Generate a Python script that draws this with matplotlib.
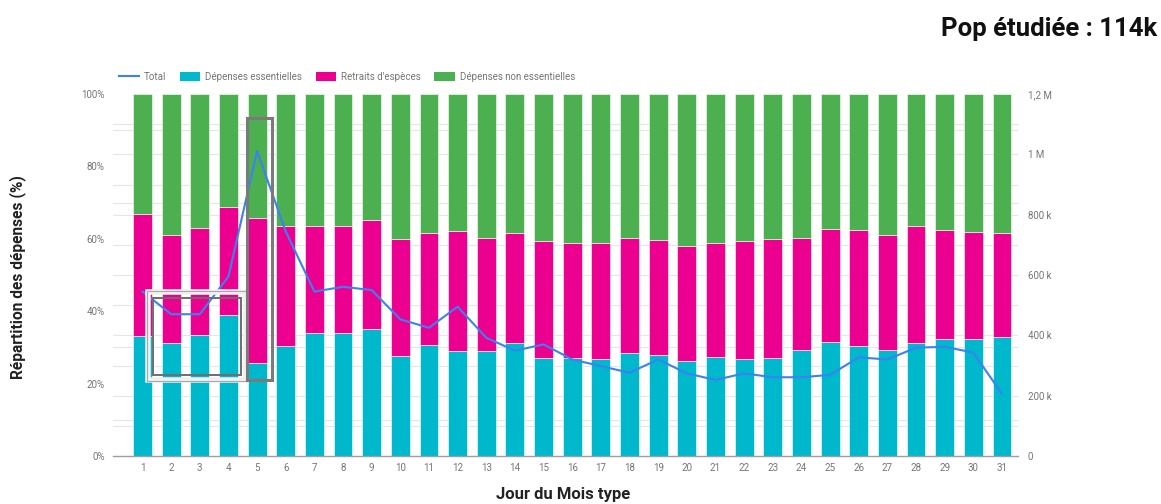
import numpy as np
import matplotlib
matplotlib.use("Agg")
import matplotlib.pyplot as plt
from matplotlib.patches import Rectangle, Patch
from matplotlib.lines import Line2D

plt.rcParams['font.family'] = ['Roboto', 'DejaVu Sans']

jours = list(range(1, 32))
# parts (%) de chaque type de dépense par jour
essentielles = [33.1, 31.3, 33.5, 38.9, 25.6, 30.3, 34.0, 33.9, 35.0, 27.7, 30.6,
                29.0, 29.0, 31.1, 27.2, 27.0, 26.7, 28.4, 27.9, 26.2, 27.3,
                26.7, 27.2, 29.2, 31.5, 30.5, 29.2, 31.1, 32.2, 32.2, 33.0]
retraits = [33.8, 29.7, 29.6, 29.9, 40.1, 33.1, 29.4, 29.5, 30.2, 32.2, 30.9,
            33.1, 31.3, 30.6, 32.1, 31.9, 32.2, 31.7, 31.7, 31.9, 31.6,
            32.7, 32.8, 31.1, 31.3, 31.8, 31.8, 32.3, 30.2, 29.7, 28.6]
non_essentielles = [33.1, 39.0, 36.9, 31.2, 34.3, 36.6, 36.6, 36.6, 34.8, 40.1, 38.5,
                    37.9, 39.7, 38.3, 40.7, 41.1, 41.1, 39.9, 40.4, 41.9, 41.1,
                    40.6, 40.0, 39.7, 37.2, 37.7, 39.0, 36.6, 37.6, 38.1, 38.4]
# montant total des dépenses
total = [545e3, 470e3, 470e3, 595e3, 1011e3, 744e3, 545e3, 561e3, 550e3, 453e3, 425e3,
         495e3, 392e3, 349e3, 370e3, 320e3, 298e3, 276e3, 320e3, 274e3, 252e3,
         274e3, 261e3, 261e3, 269e3, 327e3, 320e3, 359e3, 362e3, 343e3, 206e3]

pct_ticks = [0, 20, 40, 60, 80, 100]
pct_labels = ["0%", "20%", "40%", "60%", "80%", "100%"]
tot_ticks = [0, 200e3, 400e3, 600e3, 800e3, 1000e3, 1200e3]
tot_labels = ["0", "200 k", "400 k", "600 k", "800 k", "1 M", "1,2 M"]

c_ess = "#00B8CC"
c_ret = "#EC0090"
c_non = "#4CAF50"
c_tot = "#3B82F0"
grey_txt = "#757575"

fig = plt.figure(figsize=(11.61, 5.04), dpi=100)
ax = fig.add_axes([113/1161, 1-456/504, (1018-113)/1161, (456-94)/504])
ax2 = ax.twinx()

x = np.array(jours)
ess = np.array(essentielles)
ret = np.array(retraits)
non = np.array(non_essentielles)
w = 0.66
ax.bar(x, ess, w, color=c_ess, edgecolor="white", linewidth=0.4, zorder=2)
ax.bar(x, ret, w, bottom=ess, color=c_ret, edgecolor="white", linewidth=0.4, zorder=2)
ax.bar(x, non, w, bottom=ess + ret, color=c_non, edgecolor="white", linewidth=0.4, zorder=2)

ax.set_xlim(-0.03, 31.56)
ax.set_ylim(0, 100)
ax2.set_ylim(0, 1.2e6)

ax2.plot(x, total, color=c_tot, lw=1.5, zorder=3)

# grille : pas de 10 % à gauche et de 100 k à droite
grid_pct = set(range(0, 101, 10)) | {v / 1.2e6 * 100 for v in np.arange(0, 1.2e6 + 1, 1e5)}
ax.set_yticks(sorted(grid_pct), minor=True)
ax.yaxis.grid(True, which="minor", color="#e6e6e6", lw=0.8)
ax.set_axisbelow(True)

ax.set_yticks(pct_ticks)
ax.set_yticklabels(pct_labels)
ax2.set_yticks(tot_ticks)
ax2.set_yticklabels(tot_labels)
ax.set_xticks(jours)
ax.set_xticklabels([str(j) for j in jours])

for a in (ax, ax2):
    for s in a.spines.values():
        s.set_visible(False)
    a.tick_params(axis="y", which="both", length=0, labelsize=7, labelcolor=grey_txt)
ax.tick_params(axis="y", pad=6)
ax2.tick_params(axis="y", pad=7)
ax.tick_params(axis="x", length=0, labelsize=7, labelcolor=grey_txt, pad=5)
ax.spines["bottom"].set_visible(True)
ax.spines["bottom"].set_color("#9e9e9e")
ax.spines["bottom"].set_linewidth(1.0)

# cadres de mise en évidence (jours 2-4 et jour 5)
tr = ax.transData
ax2.add_patch(Rectangle((1.19, 21.0), 3.42, 24.2, transform=tr, fill=False,
                        edgecolor="#f0f0f0", lw=4.0, zorder=5))
ax2.add_patch(Rectangle((1.16, 20.6), 3.48, 25.0, transform=tr, fill=False,
                        edgecolor="#a8a8a8", lw=0.8, zorder=6))
ax2.add_patch(Rectangle((1.36, 22.3), 3.07, 21.3, transform=tr, fill=False,
                        edgecolor="#6e6e6e", lw=1.4, zorder=6))
ax2.add_patch(Rectangle((4.63, 21.0), 0.88, 72.3, transform=tr, fill=False,
                        edgecolor="#7a7a7a", lw=2.2, zorder=6))

handles = [Line2D([], [], color=c_tot, lw=1.5),
           Patch(facecolor=c_ess), Patch(facecolor=c_ret), Patch(facecolor=c_non)]
labels = ["Total", "Dépenses essentielles", "Retraits d'espèces", "Dépenses non essentielles"]
fig.legend(handles, labels, loc="center left", bbox_to_anchor=(110/1161, 1-77/504),
           ncol=4, frameon=False, fontsize=7, labelcolor=grey_txt,
           handlelength=2.1, handleheight=1.0, handletextpad=0.5, columnspacing=1.4)

fig.text(18/1161, 1-277/504, "Répartition des dépenses (%)", rotation=90,
         ha="center", va="center", fontsize=11.2, fontweight="bold", color="#222222")
fig.text(563/1161, 1-494/504, "Jour du Mois type", ha="center", va="center",
         fontsize=12, fontweight="bold", color="#222222")
fig.text(1157/1161, 1-29/504, "Pop étudiée : 114k", ha="right", va="center",
         fontsize=18.5, fontweight="bold", color="#111111")

fig.savefig("out.png", dpi=100)
